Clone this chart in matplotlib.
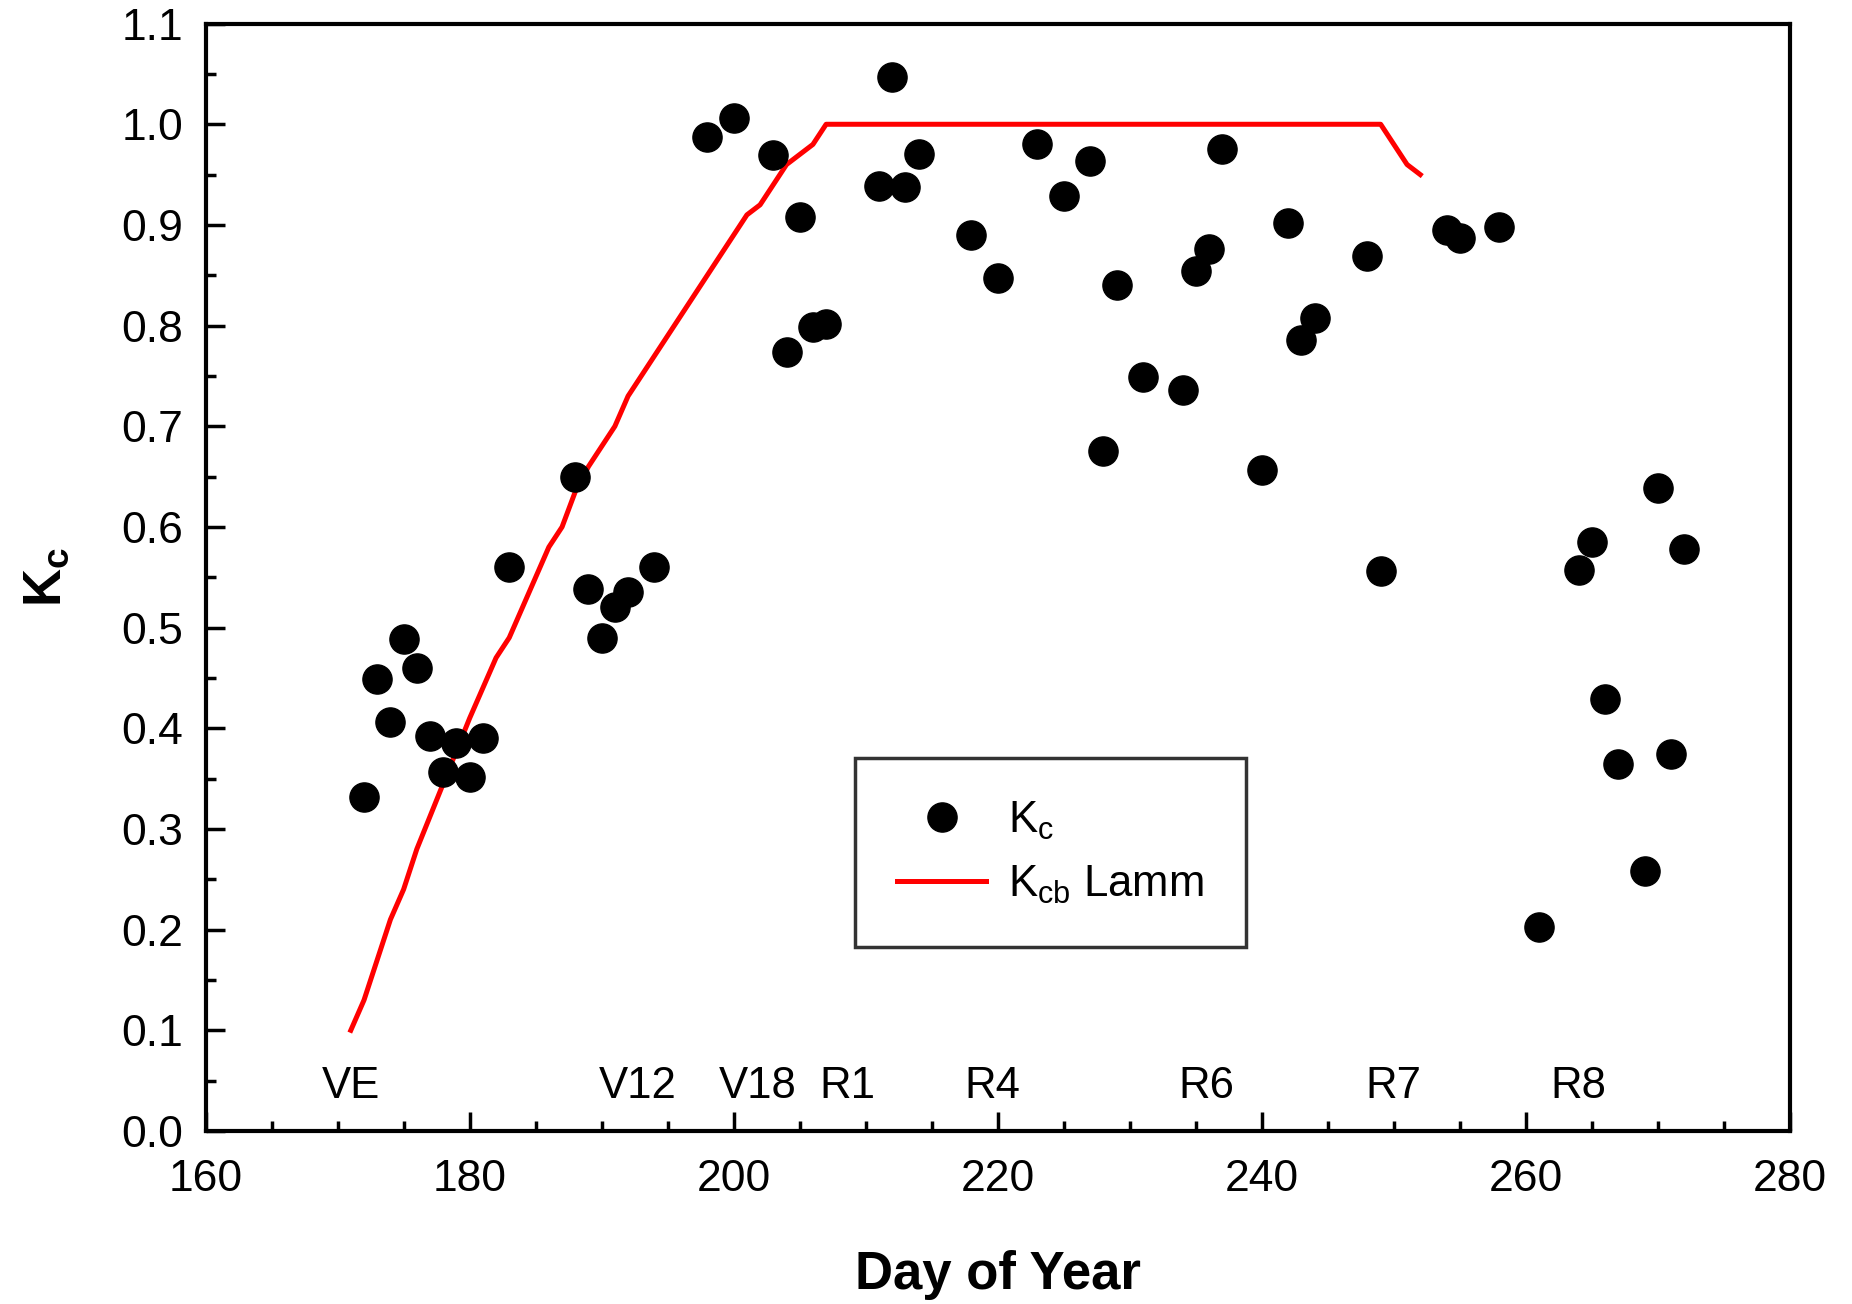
import matplotlib
matplotlib.use("Agg")
import matplotlib.pyplot as plt
from matplotlib.ticker import MultipleLocator

plt.rcParams['font.family'] = ['Liberation Sans', 'DejaVu Sans']
plt.rcParams['mathtext.fontset'] = 'custom'
plt.rcParams['mathtext.rm'] = 'Liberation Sans'
plt.rcParams['mathtext.it'] = 'Liberation Sans:italic'
plt.rcParams['mathtext.bf'] = 'Liberation Sans:bold'

# measured Kc, day of year
kc_doy = [172, 173, 174, 175, 176, 177, 178, 179, 180, 181,
          183, 188, 189, 190, 191, 192, 194,
          198, 200, 203, 204, 205, 206, 207,
          211, 212, 213, 214,
          218, 220, 223, 225, 227, 228, 229,
          231, 234, 235, 236, 237,
          240, 242, 243, 244,
          248, 249,
          254, 255, 258,
          261, 264, 265, 266, 267, 269, 270, 271, 272]
kc = [0.332, 0.449, 0.406, 0.489, 0.46, 0.392, 0.357, 0.385, 0.352, 0.39,
      0.56, 0.65, 0.538, 0.49, 0.52, 0.535, 0.56,
      0.987, 1.006, 0.969, 0.774, 0.908, 0.799, 0.802,
      0.939, 1.047, 0.938, 0.97,
      0.89, 0.847, 0.98, 0.929, 0.964, 0.675, 0.84,
      0.749, 0.736, 0.854, 0.876, 0.975,
      0.657, 0.902, 0.786, 0.808,
      0.869, 0.556,
      0.895, 0.887, 0.898,
      0.203, 0.557, 0.585, 0.429, 0.365, 0.258, 0.639, 0.374, 0.578]

# basal crop coefficient (Lamm)
lamm_doy = [171, 172, 174, 175, 176, 180, 182, 183, 186, 187, 188, 189,
            191, 192, 201, 202, 204, 206, 207, 249, 251, 252]
lamm_kcb = [0.10, 0.13, 0.21, 0.24, 0.28, 0.41, 0.47, 0.49, 0.58, 0.60, 0.635, 0.66,
            0.70, 0.73, 0.91, 0.92, 0.96, 0.98, 1.00, 1.00, 0.96, 0.95]

# growth stages
stage_names = ['VE', 'V12', 'V18', 'R1', 'R4', 'R6', 'R7', 'R8']
stage_doy = [171.0, 192.7, 201.8, 208.6, 219.6, 235.8, 250.0, 264.0]

fig = plt.figure(figsize=(18.52, 13.04), dpi=100)
ax = fig.add_axes([0.111, 0.1327, 0.8555, 0.8492])

ax.plot(kc_doy, kc, 'o', color='black', markersize=21, label=r'K$_\mathrm{c}$', zorder=3)
ax.plot(lamm_doy, lamm_kcb, '-', color='#ff0000', linewidth=3.6, label=r'K$_\mathrm{cb}$ Lamm', zorder=2)

for name, d in zip(stage_names, stage_doy):
    ax.text(d, 0.033, name, ha='center', va='baseline', fontsize=31.5)

ax.set_xlim(160, 280)
ax.set_ylim(0, 1.1)
ax.xaxis.set_major_locator(MultipleLocator(20))
ax.xaxis.set_minor_locator(MultipleLocator(5))
ax.yaxis.set_major_locator(MultipleLocator(0.1))
ax.yaxis.set_minor_locator(MultipleLocator(0.05))
ax.yaxis.set_major_formatter(matplotlib.ticker.FormatStrFormatter('%.1f'))
ax.tick_params(which='both', direction='in', width=2.5, labelsize=32)
ax.tick_params(axis='x', which='major', length=14, pad=20)
ax.tick_params(axis='y', which='major', length=14, pad=16)
ax.tick_params(which='minor', length=7)
for sp in ax.spines.values():
    sp.set_linewidth(3)

ax.set_xlabel('Day of Year', fontsize=38, fontweight='bold', labelpad=36)
ax.set_ylabel(r'$\mathbf{K_c}$', fontsize=38, labelpad=36)

leg = ax.legend(loc='lower left', bbox_to_anchor=(0.41, 0.166), fontsize=31.5,
                frameon=True, fancybox=False, edgecolor='black',
                handlelength=2.05, handletextpad=0.5, borderpad=0.95,
                labelspacing=0.5, borderaxespad=0)
leg.get_frame().set_linewidth(2.5)

fig.savefig('out.png', dpi=100)
